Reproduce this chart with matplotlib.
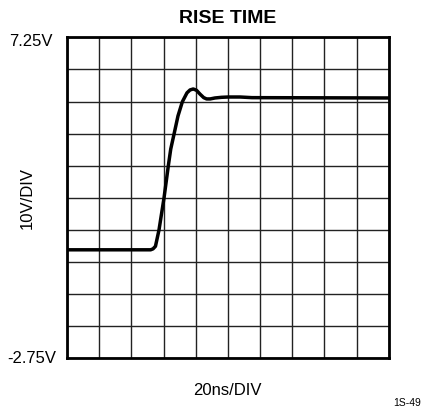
import matplotlib
matplotlib.use("Agg")
import matplotlib.pyplot as plt
import numpy as np

plt.rcParams['font.family'] = ['Liberation Sans', 'DejaVu Sans']

# data: time (ns) and voltage (V)
time_ns = [0, 52, 53.5, 55, 57.2, 60.3, 63.0, 64.5, 66.7, 69, 71.7, 74.6, 76.5,
           78.5, 80.5, 82.7, 85, 86.8, 89, 92, 96, 100.3, 107.6, 115, 200]
volts = [0.63, 0.63, 0.66, 0.74, 1.25, 2.24, 3.25, 3.77, 4.27, 4.8, 5.24, 5.52, 5.61,
         5.64, 5.60, 5.48, 5.37, 5.33, 5.33, 5.36, 5.38, 5.39, 5.39, 5.37, 5.36]

y_min, y_max = -2.75, 7.25
x_min, x_max = 0, 200
title = "RISE TIME"
y_top_label = "7.25V"
y_bot_label = "-2.75V"
y_axis_label = "10V/DIV"
x_axis_label = "20ns/DIV"
code_label = "1S-49"

fig = plt.figure(figsize=(4.24, 4.10), dpi=100)
ax = fig.add_axes([67/424, 1-359.3/410, (388.7-67)/424, (359.3-38.3)/410])
ax.set_xlim(x_min, x_max)
ax.set_ylim(y_min, y_max)
ax.set_xticks(np.arange(x_min, x_max + 1, 20))
ax.set_yticks(np.arange(y_min, y_max + 0.01, 1.0))
ax.grid(True, color='#222222', linewidth=1.0)
ax.tick_params(length=0, labelbottom=False, labelleft=False)
for s in ax.spines.values():
    s.set_linewidth(2.0)
    s.set_color('black')

ax.plot(time_ns, volts, color='black', linewidth=2.5, solid_joinstyle='round',
        solid_capstyle='round')

fig.text(228/424, 1-18.5/410, title, ha='center', va='center', fontsize=14, fontweight='bold')
fig.text(31/424, 1-41.5/410, y_top_label, ha='center', va='center', fontsize=12)
fig.text(32/424, 1-358.5/410, y_bot_label, ha='center', va='center', fontsize=12)
fig.text(27/424, 1-198.5/410, y_axis_label, ha='center', va='center', fontsize=12, rotation=90)
fig.text(227/424, 1-390.5/410, x_axis_label, ha='center', va='center', fontsize=12)
fig.text(407/424, 1-403.5/410, code_label, ha='center', va='center', fontsize=7.5)

fig.savefig("out.png", dpi=100)
